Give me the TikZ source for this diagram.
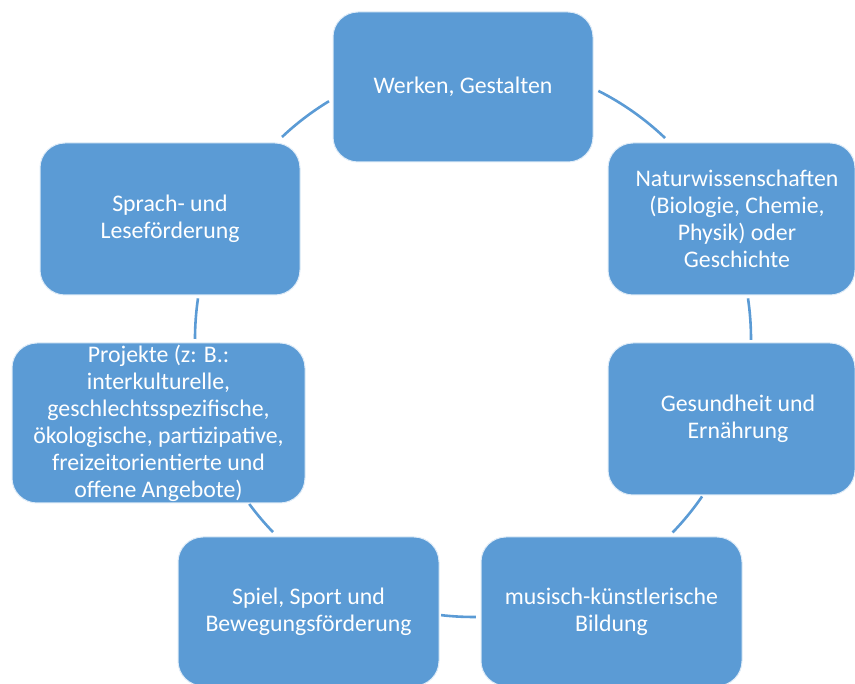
\documentclass[tikz,border=0pt]{standalone}
\usepackage{fontspec}
\setmainfont{Carlito}
\definecolor{boxblue}{HTML}{5B9BD5}
\begin{document}
\begin{tikzpicture}[x=1pt,y=1pt,
  box/.style={rectangle, rounded corners=25pt, fill=boxblue, draw=white!80!boxblue,
    line width=1pt, inner sep=0pt, text=white, align=center,
    font=\fontsize{23.8}{27}\selectfont},
  txt/.style={text=white, align=center, inner sep=0pt,
    font=\fontsize{23.8}{27}\selectfont},
  ring/.style={draw=boxblue, line width=2.6pt}]
\useasboundingbox (0,0) rectangle (855,684);

% centre of the ring that links the boxes
\coordinate (c) at (473,345);

% ring segments between neighbouring boxes
\draw[ring] ([shift={(121.2:278pt)}]c) arc[start angle=121.2, end angle=133.4, radius=278pt];
\draw[ring] ([shift={(46.3:278pt)}]c) arc[start angle=46.3, end angle=63.2, radius=278pt];
\draw[ring] ([shift={(-0.2:278pt)}]c) arc[start angle=-0.2, end angle=8.4, radius=278pt];
\draw[ring] ([shift={(171.6:278pt)}]c) arc[start angle=171.6, end angle=180, radius=278pt];
\draw[ring] ([shift={(-44.1:278pt)}]c) arc[start angle=-44.1, end angle=-34.5, radius=278pt];
\draw[ring] ([shift={(216.4:278pt)}]c) arc[start angle=216.4, end angle=224, radius=278pt];
\draw[ring] ([shift={(263.4:278pt)}]c) arc[start angle=263.4, end angle=270.6, radius=278pt];

% boxes
\node[box, minimum width=260pt, minimum height=150pt] (werk) at (463,597) {Werken, Gestalten};
\node[box, minimum width=247pt, minimum height=152pt] (nat) at (731.5,465) {};
\node[txt] (natT) at (737,465) {Naturwissenschaften\\(Biologie, Chemie,\\Physik) oder\\Geschichte};
\node[box, minimum width=247pt, minimum height=152pt] (ges) at (731.5,265) {};
\node[txt] (gesT) at (738,265.5) {Gesundheit und\\Ernährung};
\node[box, minimum width=261pt, minimum height=149pt] (mus) at (611.5,72.5) {musisch-künstlerische\\Bildung};
\node[box, minimum width=261pt, minimum height=149pt] (spiel) at (308.5,72.5) {Spiel, Sport und\\Bewegungsförderung};
\node[box, minimum width=293pt, minimum height=160pt] (proj) at (158.5,261) {Projekte (z: B.:\\interkulturelle,\\geschlechtsspezifische,\\ökologische, partizipative,\\freizeitorientierte und\\offene Angebote)};
\node[box, minimum width=260pt, minimum height=152pt] (spr) at (170,465) {Sprach- und\\Leseförderung};
\end{tikzpicture}
\end{document}
